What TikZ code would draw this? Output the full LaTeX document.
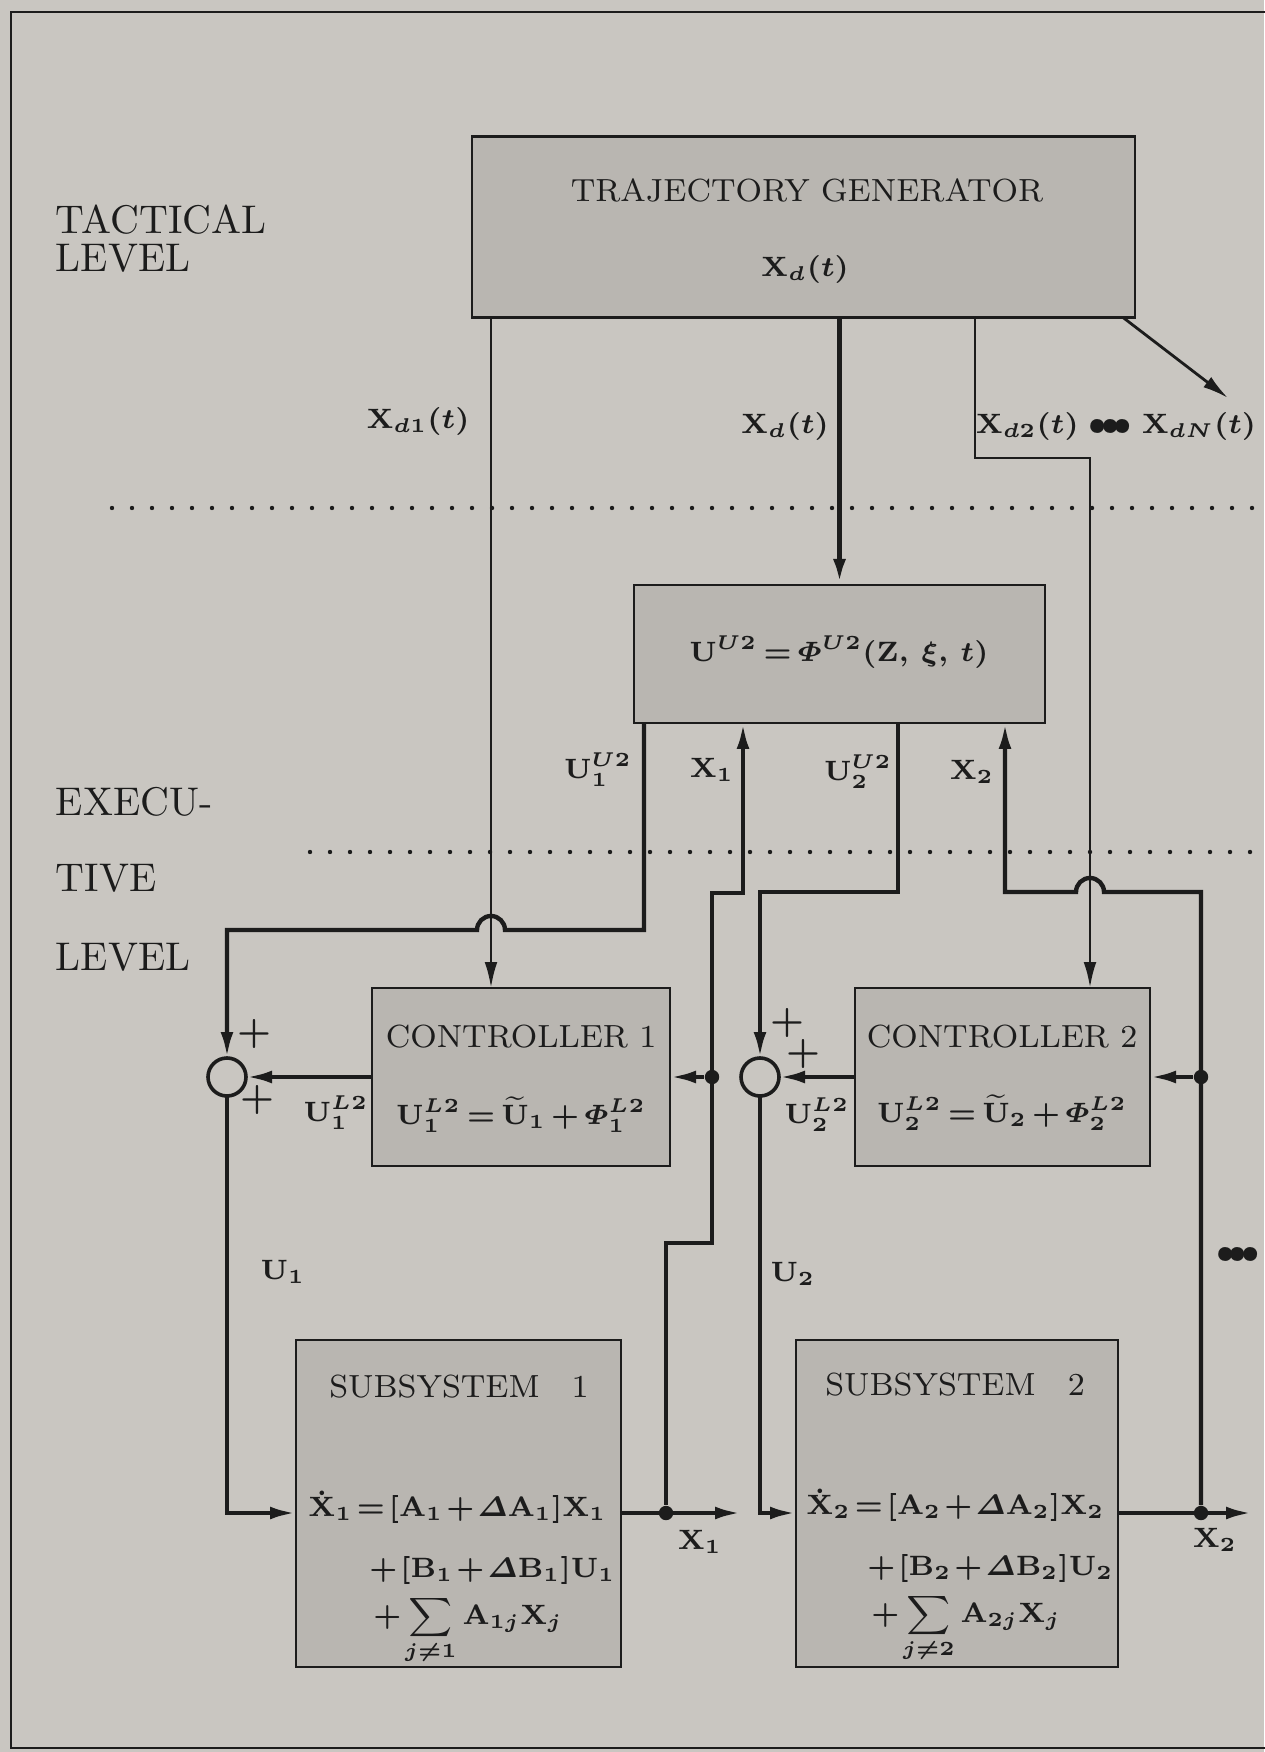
\documentclass[tikz,border=0pt]{standalone}
\usepackage{amsmath}
\usetikzlibrary{calc,arrows.meta}
\usepackage{xcolor}
\definecolor{pagegray}{HTML}{C9C6C1}
\definecolor{boxgray}{HTML}{B9B6B1}
\definecolor{inkblack}{HTML}{1C1C1C}
\newcommand{\tightmath}{\thickmuskip=3mu\medmuskip=2.5mu}
\newcommand{\tightermath}{\thickmuskip=2mu\medmuskip=1.5mu}

\tikzset{
  block/.style={draw=inkblack, fill=boxgray, line width=0.6pt, inner sep=0pt, outer sep=0pt},
  sumnode/.style={circle, draw=inkblack, line width=0.9pt, minimum size=9.5pt, inner sep=0pt, outer sep=0pt},
  junction/.style={circle, fill=inkblack, inner sep=0pt, minimum size=3.6pt},
  sig/.style={draw=inkblack, line width=1.1pt},
  thinsig/.style={draw=inkblack, line width=0.7pt},
  lbl/.style={font=\fontsize{7}{8.5}\selectfont\boldmath, text=inkblack, inner sep=1pt},
  pluslbl/.style={font=\fontsize{9.5}{10}\selectfont\bfseries, text=inkblack, inner sep=0pt},
  lvl/.style={font=\normalsize, text=inkblack, anchor=west, inner sep=0pt},
  ttl/.style={font=\footnotesize, text=inkblack, inner sep=0pt},
  eqn/.style={font=\fontsize{7.5}{9}\selectfont\boldmath\tightmath, text=inkblack, inner sep=0pt},
  subeqn/.style={font=\fontsize{6.8}{8.2}\selectfont\boldmath\tightermath, text=inkblack, inner sep=0pt},
  levelsep/.style={inkblack, line width=1.1pt, line cap=round, dash pattern=on 0pt off 5pt},
}

\begin{document}
\begin{tikzpicture}[x=0.25pt, y=-0.25pt, >={Latex[length=6.5pt,width=3.2pt]}]

  % Page and frame
  \useasboundingbox (0,0) rectangle (1264,1752);
  \fill[pagegray] (0,0) rectangle (1264,1752);
  \draw[inkblack, line width=0.7pt] (11,12) rectangle (1300,1748);

  % Level separators
  \draw[levelsep] (112,508) -- (1264,508);
  \draw[levelsep] (310,852) -- (1264,852);

  % Level names
  \node[lvl] (tacA) at (55,220) {TACTICAL};
  \node[lvl] (tacB) at (55,258) {LEVEL};
  \node[lvl] (exeA) at (55,802) {EXECU-};
  \node[lvl] (exeB) at (55,878) {TIVE};
  \node[lvl] (exeC) at (55,957) {LEVEL};

  % ==================== BLOCKS ====================
  % Trajectory generator
  \node[block, minimum width=165.75pt, minimum height=45.25pt] (tg) at (803.5,227) {};
  \node[ttl] (tgname) at (807,190) {TRAJECTORY GENERATOR};
  \node[eqn] (tgeq) at (805,270) {$\mathrm{X}_d(t)$};

  % Upper-level coordinator
  \node[block, minimum width=102.75pt, minimum height=34.5pt] (ub) at (839.5,654) {};
  \node[eqn] (ubeq) at (839,652) {$\mathrm{U}^{U2}=\varPhi^{U2}(\mathrm{Z},\,\xi,\,t)$};

  % Controllers
  \node[block, minimum width=74.5pt, minimum height=44.5pt] (c1) at (521,1077) {};
  \node[ttl] (c1name) at (521,1037) {CONTROLLER 1};
  \node[eqn] (c1eq) at (521,1115) {$\mathrm{U}_1^{L2}=\widetilde{\mathrm{U}}_1+\varPhi_1^{L2}$};

  \node[block, minimum width=73.75pt, minimum height=44.5pt] (c2) at (1002.5,1077) {};
  \node[ttl] (c2name) at (1002,1037) {CONTROLLER 2};
  \node[eqn] (c2eq) at (1002,1113) {$\mathrm{U}_2^{L2}=\widetilde{\mathrm{U}}_2+\varPhi_2^{L2}$};

  % Summing points
  \node[sumnode] (s1) at (227,1077) {};
  \node[sumnode] (s2) at (760,1077) {};
  \node[pluslbl] (p1a) at (254,1034) {+};
  \node[pluslbl] (p1b) at (257,1100) {+};
  \node[pluslbl] (p2a) at (787,1023) {+};
  \node[pluslbl] (p2b) at (803,1054) {+};

  % Subsystems
  \node[block, minimum width=81.25pt, minimum height=81.75pt] (sub1) at (458.5,1503.5) {};
  \node[ttl] (sub1name) at (459,1387) {SUBSYSTEM\quad 1};
  \node[subeqn] (sub1eq) at (462,1578) {$\begin{aligned}
      \dot{\mathrm{X}}_1 &= [\mathrm{A}_1+\varDelta\mathrm{A}_1]\mathrm{X}_1\\[4pt]
      &\enspace{}+[\mathrm{B}_1+\varDelta\mathrm{B}_1]\mathrm{U}_1\\[-2pt]
      &\enspace\;{}+\sum_{j\neq1}\mathrm{A}_{1j}\mathrm{X}_j
    \end{aligned}$};

  \node[block, minimum width=80.5pt, minimum height=81.75pt] (sub2) at (957,1503.5) {};
  \node[ttl] (sub2name) at (955,1385) {SUBSYSTEM\quad 2};
  \node[subeqn] (sub2eq) at (960,1576) {$\begin{aligned}
      \dot{\mathrm{X}}_2 &= [\mathrm{A}_2+\varDelta\mathrm{A}_2]\mathrm{X}_2\\[4pt]
      &\enspace{}+[\mathrm{B}_2+\varDelta\mathrm{B}_2]\mathrm{U}_2\\[-2pt]
      &\enspace\;{}+\sum_{j\neq2}\mathrm{A}_{2j}\mathrm{X}_j
    \end{aligned}$};

  % ==================== ROUTING POINTS ====================
  \coordinate (xda) at (491,318);
  \coordinate (xdb) at (975,458);
  \coordinate (xdc) at (1090,458);
  \coordinate (xdn) at (1228,398);
  \coordinate (uua) at (644,930);
  \coordinate (u2a) at (898,892);
  \coordinate (x1a) at (712,1243);
  \coordinate (x1b) at (743,893);
  \coordinate (x2a) at (1201,892);
  \coordinate (x2b) at (1005,892);
  \coordinate (ioy) at (0,1513);
  \coordinate (x1out) at (741,1513);
  \coordinate (x2out) at (1252,1513);

  \node[junction] (j1c) at (x1a |- c1.east) {};
  \node[junction] (j2c) at (x2a |- c2.east) {};
  \node[junction] (j1out) at (666,1513) {};
  \node[junction] (j2out) at (1201,1513) {};

  % ==================== CONNECTORS ====================
  % Tactical commands
  \draw[thinsig,->] (tg.south -| xda) -- (c1.north -| xda);
  \draw[sig, line width=1.4pt,->] (ub.north |- tg.south) -- (ub.north);
  \draw[thinsig,->] (tg.south -| xdb) -- (xdb) -- (xdc) -- (c2.north -| xdc);
  \draw[thinsig,->] ([xshift=-3pt]tg.south east) -- (xdn);

  % Coordinator outputs
  \draw[sig,->] (ub.south -| uua) -- (uua)
    -- ($(xda |- uua)+(3.5pt,0)$) arc[start angle=0, end angle=180, radius=3.5pt] -| (s1.north);
  \draw[sig,->] (ub.south -| u2a) -- (u2a) -| (s2.north);

  % State feedback to coordinator
  \draw[sig,->] (j1out) |- (x1a) |- (x1b) -- (x1b |- ub.south);
  \draw[sig,->] (j2out) -- (x2a)
    -- ($(xdc |- x2a)+(3.5pt,0)$) arc[start angle=0, end angle=180, radius=3.5pt] -- (x2b) -- (x2b |- ub.south);

  % Local loops
  \draw[sig,->] (j1c) -- (c1.east);
  \draw[sig,->] (c1.west) -- (s1.east);
  \draw[sig,->] (s1.south) |- (sub1.west |- ioy);
  \draw[sig,->] (sub1.east |- ioy) -- (x1out);

  \draw[sig,->] (j2c) -- (c2.east);
  \draw[sig,->] (c2.west) -- (s2.east);
  \draw[sig,->] (s2.south) |- (sub2.west |- ioy);
  \draw[sig,->] (sub2.east |- ioy) -- (x2out);

  % Signal labels
  \node[lbl] (lxd1) at (418,422) {$\mathrm{X}_{d1}(t)$};
  \node[lbl] (lxd) at (785,427) {$\mathrm{X}_d(t)$};
  \node[lbl] (lxdn) at (1116,427) {$\mathrm{X}_{d2}(t)\;{\bullet}\!{\bullet}\!{\bullet}\;\mathrm{X}_{dN}(t)$};
  \node[lbl] (luu1) at (598,770) {$\mathrm{U}_1^{U2}$};
  \node[lbl] (lx1u) at (712,770) {$\mathrm{X}_1$};
  \node[lbl] (luu2) at (858,772) {$\mathrm{U}_2^{U2}$};
  \node[lbl] (lx2u) at (972,772) {$\mathrm{X}_2$};
  \node[lbl] (lul1) at (336,1113) {$\mathrm{U}_1^{L2}$};
  \node[lbl] (lul2) at (817,1115) {$\mathrm{U}_2^{L2}$};
  \node[lbl] (lu1) at (283,1272) {$\mathrm{U}_1$};
  \node[lbl] (lu2) at (793,1274) {$\mathrm{U}_2$};
  \node[lbl] (lmore) at (1238,1255) {${\bullet}\!{\bullet}\!{\bullet}$};
  \node[lbl] (lx1o) at (700,1542) {$\mathrm{X}_1$};
  \node[lbl] (lx2o) at (1215,1540) {$\mathrm{X}_2$};

\end{tikzpicture}
\end{document}
